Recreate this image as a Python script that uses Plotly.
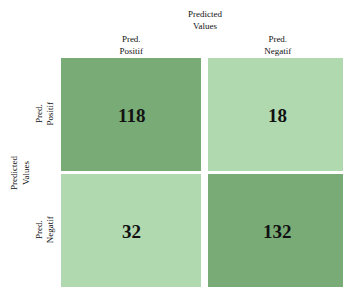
import plotly.graph_objects as go

col_labels = ["Pred.<br>Positif", "Pred.<br>Negatif"]
row_labels = ["Pred.<br>Positif", "Pred.<br>Negatif"]
values = [[118, 18], [32, 132]]
axis_title = "Predicted<br>Values"

light = "#b1d9b0"
dark = "#79ab77"
font_family = "Liberation Serif, Times New Roman, serif"

fig = go.Figure(go.Heatmap(
    z=values,
    x=col_labels,
    y=row_labels,
    colorscale=[[0, light], [0.5, light], [0.5, dark], [1, dark]],
    zmin=0, zmax=150,
    showscale=False,
    xgap=7, ygap=3,
    hoverinfo="skip",
))

for i, r in enumerate(row_labels):
    for j, c in enumerate(col_labels):
        fig.add_annotation(x=c, y=r, text="<b>%d</b>" % values[i][j], showarrow=False,
                           font=dict(family=font_family, size=19, color="#111"))

fig.add_annotation(xref="paper", yref="paper", x=0.5, y=1, yshift=37, yanchor="middle",
                   text=axis_title, showarrow=False,
                   font=dict(family=font_family, size=9, color="#111"))
fig.add_annotation(xref="paper", yref="paper", x=0, y=0.5, xshift=-38, xanchor="center",
                   text=axis_title, textangle=-90, showarrow=False,
                   font=dict(family=font_family, size=9, color="#111"))

fig.update_xaxes(side="top", showgrid=False, zeroline=False, ticks="", automargin=False,
                 tickfont=dict(family=font_family, size=9, color="#111"), ticklabelstandoff=0)
fig.update_yaxes(autorange="reversed", showgrid=False, zeroline=False, ticks="", tickangle=-90,
                 automargin=False,
                 tickfont=dict(family=font_family, size=9, color="#111"), ticklabelstandoff=2)

fig.update_layout(
    width=343, height=283,
    margin=dict(l=50, r=0, t=49, b=2),
    plot_bgcolor="white", paper_bgcolor="white",
)

fig.write_html("out.html")
